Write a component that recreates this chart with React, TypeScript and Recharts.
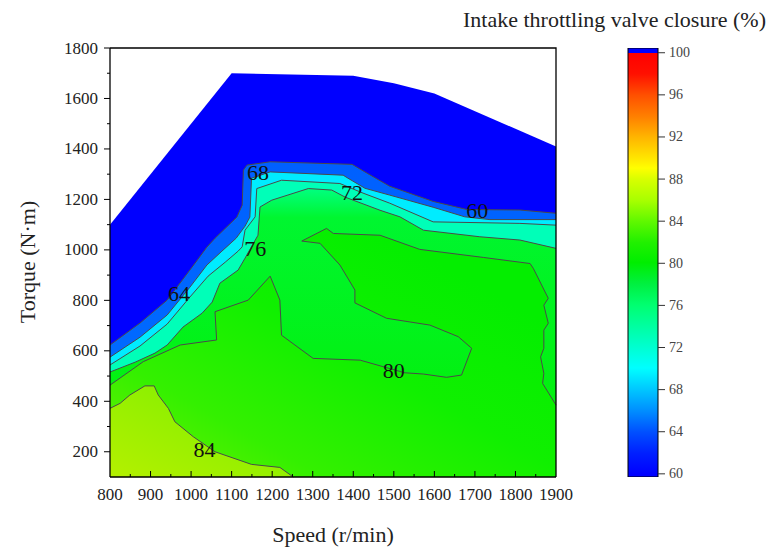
import React from 'react';
import { ComposedChart, Area, Line, Scatter, XAxis, YAxis, BarChart, Bar } from 'recharts';

type Pt = [number, number];

// axis ticks
const X_TICKS = [800, 900, 1000, 1100, 1200, 1300, 1400, 1500, 1600, 1700, 1800, 1900];
const X_MAJOR_IN = [900, 1000, 1100, 1200, 1300, 1400, 1500, 1600, 1700, 1800];
const X_MINOR_IN = [850, 950, 1050, 1150, 1250, 1350, 1450, 1550, 1650, 1750, 1850];
const Y_TICKS = [200, 400, 600, 800, 1000, 1200, 1400, 1600, 1800];
const Y_MINOR = [300, 500, 700, 900, 1100, 1300, 1500, 1700];
const BAR_TICKS = [60, 64, 68, 72, 76, 80, 84, 88, 92, 96, 100];
const BAR_RANGE = [59.7, 100.45];

// measured envelope of the map (speed, torque)
const BOUNDARY: Pt[] = [[800, 1100], [1100, 1700], [1400, 1690], [1500, 1660], [1600, 1620], [1900, 1410]];

// contour lines, outermost first
const C64: Pt[] = [[800, 623], [874, 710], [941, 801], [997, 920], [1039, 1011], [1059, 1046], [1113, 1130], [1126, 1177], [1129, 1316], [1138, 1336], [1195, 1349], [1397, 1339], [1434, 1304], [1490, 1252], [1597, 1192], [1680, 1160], [1811, 1158], [1900, 1145]];
const C68: Pt[] = [[800, 575], [874, 654], [941, 742], [997, 852], [1039, 940], [1076, 995], [1111, 1046], [1133, 1094], [1145, 1130], [1149, 1284], [1195, 1309], [1375, 1296], [1387, 1284], [1429, 1244], [1490, 1217], [1597, 1169], [1675, 1131], [1737, 1120], [1900, 1120]];
const C72: Pt[] = [[800, 544], [874, 619], [941, 706], [997, 813], [1042, 896], [1084, 951], [1116, 995], [1126, 1012], [1133, 1078], [1158, 1131], [1162, 1243], [1223, 1276], [1367, 1263], [1424, 1225], [1490, 1185], [1597, 1111], [1811, 1105], [1900, 1098]];
const C76: Pt[] = [[800, 516], [862, 555], [911, 591], [941, 623], [980, 694], [1027, 749], [1052, 793], [1071, 868], [1116, 920], [1133, 967], [1165, 1058], [1170, 1170], [1199, 1197], [1289, 1243], [1347, 1237], [1380, 1209], [1466, 1157], [1515, 1131], [1573, 1078], [1712, 1052], [1811, 1039], [1900, 1006]];
const C80: Pt[] = [[800, 464], [882, 557], [973, 623], [1063, 643], [1059, 755], [1141, 801], [1195, 896], [1219, 801], [1223, 662], [1301, 570], [1417, 563], [1474, 537], [1527, 513], [1573, 508], [1630, 495], [1667, 504], [1692, 610], [1659, 656], [1589, 702], [1482, 729], [1404, 790], [1404, 841], [1367, 940], [1318, 1026], [1273, 1035], [1334, 1085], [1351, 1065], [1466, 1058], [1564, 1002], [1721, 970], [1836, 946], [1844, 927], [1881, 808], [1870, 781], [1881, 709], [1870, 682], [1870, 610], [1862, 576], [1870, 511], [1867, 471], [1900, 385]];
const C84: Pt[] = [[800, 372], [825, 392], [849, 425], [886, 461], [909, 461], [919, 425], [944, 372], [960, 319], [1005, 260], [1059, 200], [1149, 150], [1219, 138], [1252, 100]];

const LABELS = [
  { x: 1165, y: 1308, t: '68' },
  { x: 1397, y: 1229, t: '72' },
  { x: 1706, y: 1157, t: '60' },
  { x: 970, y: 827, t: '64' },
  { x: 1158, y: 1007, t: '76' },
  { x: 1500, y: 524, t: '80' },
  { x: 1033, y: 209, t: '84' },
];

const FRAME: Pt[] = [[800, 1800], [1900, 1800], [1900, 100]];

const FONT = '"Liberation Serif", "Times New Roman", serif';

const toArea = (pts: Pt[]) => pts.map(([x, y]) => ({ x, y: [100, y] }));
const toLine = (pts: Pt[]) => pts.map(([x, y]) => ({ x, y }));

const upTick = (len: number) => (p: any) => (
  <line x1={p.cx} y1={p.cy} x2={p.cx} y2={p.cy - len} stroke="#000" strokeWidth={1} />
);
const leftTick = (len: number) => (p: any) => (
  <line x1={p.cx} y1={p.cy} x2={p.cx - len} y2={p.cy} stroke="#000" strokeWidth={1} />
);
const ContourLabel = (p: any) => (
  <text x={p.cx} y={p.cy} textAnchor="middle" dominantBaseline="central" fontSize={22} fontFamily={FONT} fill="#111">
    {p.payload.t}
  </text>
);

// tick text drawn directly so the serif face sticks
const XTick = (p: any) => (
  <text x={p.x} y={p.y} dy="0.71em" textAnchor="middle" fontSize={17} fontFamily={FONT} fill="#222">
    {p.payload.value}
  </text>
);
const YTick = (p: any) => (
  <text x={p.x} y={p.y} textAnchor="end" dominantBaseline="central" fontSize={17} fontFamily={FONT} fill="#222">
    {p.payload.value}
  </text>
);
const BarTick = (p: any) => (
  <text x={p.x} y={p.y} textAnchor="start" dominantBaseline="central" fontSize={14} fontFamily={FONT} fill="#444">
    {p.payload.value}
  </text>
);

const bands = [
  { pts: BOUNDARY, fill: '#0000ff' },
  { pts: C64, fill: 'url(#g64)' },
  { pts: C68, fill: '#00ecff' },
  { pts: C72, fill: '#00ffb8' },
  { pts: C76, fill: 'url(#g76)' },
  { pts: C80, fill: 'url(#g80)' },
  { pts: C84, fill: 'url(#g84)' },
];

const contours = [C64, C68, C72, C76, C80, C84];

export default function App() {
  return (
    <div style={{ position: 'absolute', left: 0, top: 0, width: 774, height: 550, background: '#fff', fontFamily: FONT, color: '#222' }}>
      <div style={{ position: 'absolute', left: 0, top: 0 }}>
        <ComposedChart width={774} height={550} margin={{ top: 48, right: 218, bottom: 43, left: 50 }}>
          <defs>
            <linearGradient id="g64" x1="0" y1="0" x2="0" y2="1">
              <stop offset="0" stopColor="#0060ff" />
              <stop offset="1" stopColor="#0070ff" />
            </linearGradient>
            <linearGradient id="g76" x1="0" y1="0" x2="0" y2="1">
              <stop offset="0" stopColor="#00ff80" />
              <stop offset="0.1" stopColor="#00f630" />
              <stop offset="1" stopColor="#04ee00" />
            </linearGradient>
            <linearGradient id="g80" x1="0" y1="1" x2="0.8" y2="0.2">
              <stop offset="0" stopColor="#70f000" />
              <stop offset="0.3" stopColor="#34f000" />
              <stop offset="0.65" stopColor="#10f000" />
              <stop offset="1" stopColor="#04ee00" />
            </linearGradient>
            <linearGradient id="g84" x1="0" y1="1" x2="0.9" y2="0.1">
              <stop offset="0" stopColor="#b4f000" />
              <stop offset="1" stopColor="#7cf000" />
            </linearGradient>
          </defs>
          <XAxis
            dataKey="x"
            type="number"
            domain={[800, 1900]}
            ticks={X_TICKS}
            height={30}
            tickLine={false}
            tickSize={0}
            tickMargin={11}
            axisLine={{ stroke: '#000', strokeWidth: 1.3 }}
            tick={XTick}
          />
          <YAxis
            type="number"
            domain={[100, 1800]}
            ticks={Y_TICKS}
            width={60}
            tickSize={6}
            tickMargin={6}
            axisLine={{ stroke: '#000', strokeWidth: 1.3 }}
            tickLine={{ stroke: '#000' }}
            tick={YTick}
          />
          {bands.map((b, i) => (
            <Area
              key={'b' + i}
              data={toArea(b.pts)}
              dataKey="y"
              type="linear"
              fill={b.fill}
              fillOpacity={1}
              stroke="none"
              dot={false}
              activeDot={false}
              isAnimationActive={false}
            />
          ))}
          {contours.map((c, i) => (
            <Line
              key={'c' + i}
              data={toLine(c)}
              dataKey="y"
              type="linear"
              stroke="#4a4a4a"
              strokeWidth={1}
              dot={false}
              activeDot={false}
              isAnimationActive={false}
            />
          ))}
          <Line data={toLine(FRAME)} dataKey="y" type="linear" stroke="#000" strokeWidth={1.3} dot={false} activeDot={false} isAnimationActive={false} />
          <Scatter data={X_MAJOR_IN.map((x) => ({ x, y: 100 }))} dataKey="y" shape={upTick(6)} isAnimationActive={false} />
          <Scatter data={X_MINOR_IN.map((x) => ({ x, y: 100 }))} dataKey="y" shape={upTick(3)} isAnimationActive={false} />
          <Scatter data={Y_MINOR.map((y) => ({ x: 800, y }))} dataKey="y" shape={leftTick(3)} isAnimationActive={false} />
          <Scatter data={LABELS} dataKey="y" shape={ContourLabel} isAnimationActive={false} />
        </ComposedChart>
      </div>

      <div style={{ position: 'absolute', left: 0, top: 0 }}>
        <BarChart
          width={774}
          height={550}
          data={[{ name: 'scale', v: BAR_RANGE }]}
          margin={{ top: 48, right: 66, bottom: 73, left: 628 }}
          barCategoryGap={0}
        >
          <defs>
            <linearGradient id="cbar" x1="0" y1="0" x2="0" y2="1">
              <stop offset="0" stopColor="#0000ff" />
              <stop offset="0.011" stopColor="#0000ff" />
              <stop offset="0.012" stopColor="#ff0000" />
              <stop offset="0.06" stopColor="#ff1000" />
              <stop offset="0.11" stopColor="#ff5000" />
              <stop offset="0.16" stopColor="#ff8000" />
              <stop offset="0.207" stopColor="#ffb400" />
              <stop offset="0.257" stopColor="#ffe600" />
              <stop offset="0.28" stopColor="#ffff00" />
              <stop offset="0.306" stopColor="#d8ff00" />
              <stop offset="0.355" stopColor="#a8ff00" />
              <stop offset="0.404" stopColor="#60f800" />
              <stop offset="0.454" stopColor="#20f000" />
              <stop offset="0.5" stopColor="#00ee00" />
              <stop offset="0.55" stopColor="#00f040" />
              <stop offset="0.599" stopColor="#00ff70" />
              <stop offset="0.648" stopColor="#00ffa0" />
              <stop offset="0.697" stopColor="#00ffd0" />
              <stop offset="0.746" stopColor="#00ffff" />
              <stop offset="0.795" stopColor="#00c8ff" />
              <stop offset="0.844" stopColor="#0090ff" />
              <stop offset="0.895" stopColor="#0050ff" />
              <stop offset="0.944" stopColor="#0020ff" />
              <stop offset="0.994" stopColor="#0000ff" />
              <stop offset="1" stopColor="#0000ff" />
            </linearGradient>
          </defs>
          <XAxis dataKey="name" hide />
          <YAxis
            orientation="right"
            type="number"
            width={50}
            domain={BAR_RANGE}
            allowDataOverflow
            ticks={BAR_TICKS}
            axisLine={false}
            tickSize={7}
            tickMargin={4}
            tickLine={{ stroke: '#333' }}
            tick={BarTick}
          />
          <Bar dataKey="v" fill="url(#cbar)" stroke="#000" strokeWidth={1} isAnimationActive={false} />
        </BarChart>
      </div>

      <div style={{ position: 'absolute', right: 8, top: 7, fontSize: 22, lineHeight: '26px', whiteSpace: 'nowrap' }}>
        Intake throttling valve closure (%)
      </div>
      <div style={{ position: 'absolute', left: 0, width: 666, top: 522, fontSize: 22, lineHeight: '26px', textAlign: 'center' }}>
        Speed (r/min)
      </div>
      <div
        style={{
          position: 'absolute',
          left: -72,
          top: 249,
          width: 200,
          height: 26,
          fontSize: 22,
          lineHeight: '26px',
          textAlign: 'center',
          transform: 'rotate(-90deg)',
        }}
      >
        Torque (N·m)
      </div>
    </div>
  );
}
